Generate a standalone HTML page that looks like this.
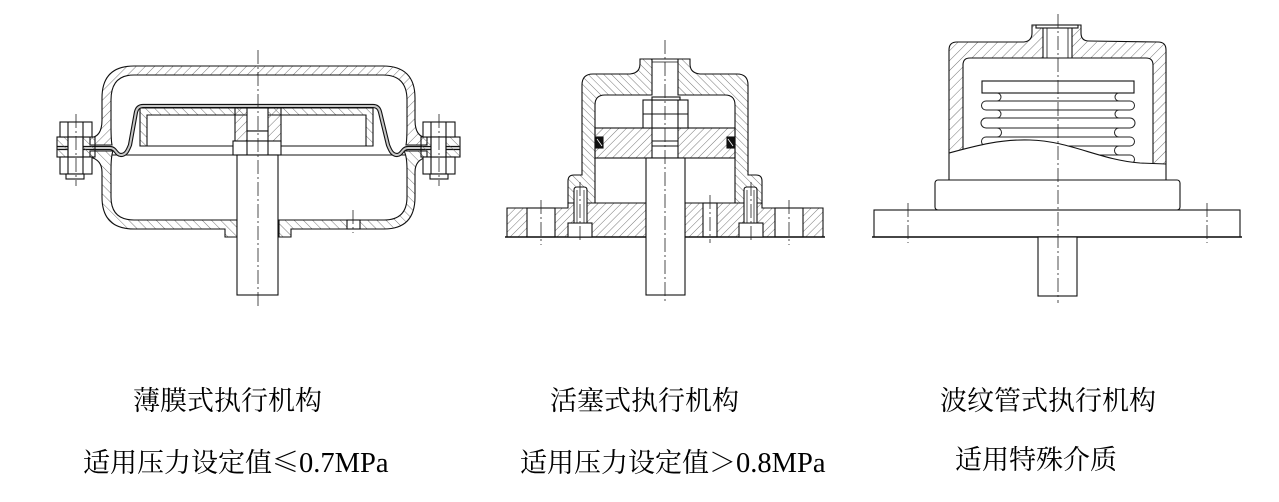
<!DOCTYPE html>
<html><head><meta charset="utf-8">
<style>
html,body{margin:0;padding:0;background:#fff;}
body{width:1279px;height:502px;position:relative;overflow:hidden;}
svg{position:absolute;left:0;top:0;}
.t{position:absolute;font-family:"Liberation Serif","Noto Serif CJK SC",serif;font-size:27px;color:#000;white-space:nowrap;line-height:27px;}
.c{font-family:"Noto Serif CJK SC","Noto Sans CJK SC",serif;}
.l{font-family:"Liberation Serif",serif;font-size:28.5px;}
</style></head><body>
<svg width="1279" height="502" viewBox="0 0 1279 502" xmlns="http://www.w3.org/2000/svg">
<defs>
<pattern id="hs" width="6.5" height="6.5" patternUnits="userSpaceOnUse" patternTransform="rotate(45)"><line x1="0" y1="0" x2="0" y2="6.5" stroke="#555" stroke-width="0.8"/></pattern>
<pattern id="hb" width="6.5" height="6.5" patternUnits="userSpaceOnUse" patternTransform="rotate(-45)"><line x1="0" y1="0" x2="0" y2="6.5" stroke="#555" stroke-width="0.8"/></pattern>
<pattern id="ps" width="5.5" height="5.5" patternUnits="userSpaceOnUse" patternTransform="rotate(45)"><line x1="0" y1="0" x2="0" y2="5.5" stroke="#555" stroke-width="0.8"/></pattern>
<pattern id="pb" width="5.5" height="5.5" patternUnits="userSpaceOnUse" patternTransform="rotate(-45)"><line x1="0" y1="0" x2="0" y2="5.5" stroke="#555" stroke-width="0.8"/></pattern>
<pattern id="bs" width="7" height="7" patternUnits="userSpaceOnUse" patternTransform="rotate(45)"><line x1="0" y1="0" x2="0" y2="7" stroke="#555" stroke-width="0.8"/></pattern>
<clipPath id="above"><path d="M930 0 L1190 0 L1190 164 L1166 164 L1140 163 C1100 160 1070 141 1030 140 C1000 139 975 146 949 153 L930 153 Z"/></clipPath>
</defs>

<g fill="none" stroke="#111" stroke-width="1.1">
<!-- ================= DIAPHRAGM ================= -->
<path fill="url(#hs)" d="M90 137 L94 137 Q102 134 102 120 L102 98 Q102 66 134 66 L383 66 Q415 66 415 98 L415 120 Q415 134 423 137 L427 137 L427 145 L406 145 Q407 140 407 125 L407 100 Q407 75 383 75 L134 75 Q111 75 111 100 L111 125 Q111 140 112 145 L90 145 Z"/>
<path fill="url(#hb)" d="M90 151 L113 151 Q111 156 111 170 L111 197 Q111 220 134 220 L237 220 L237 237 L225 237 L225 229 L134 229 Q102 229 102 197 L102 172 Q102 160 90 157 Z"/>
<path fill="url(#hb)" d="M427 151 L404 151 Q407 156 407 170 L407 197 Q407 220 384 220 L279 220 L279 237 L291 237 L291 229 L384 229 Q415 229 415 197 L415 172 Q415 160 427 157 Z"/>
<rect x="347" y="220" width="13" height="9" fill="#fff"/>
<path fill="url(#hb)" fill-rule="evenodd" d="M140 108 L373 108 L373 146 L140 146 Z M147 115 L366 115 L366 146 L147 146 Z"/>
<line x1="112" y1="155" x2="233" y2="155"/>
<line x1="281" y1="155" x2="405" y2="155"/>
<path stroke="#111" stroke-width="4.2" d="M57 148 L110 148 C116 148 116 155 121 155 C126 155 128 150 130 145 L136 112 C137 108 139 106 143 106 L373 106 C377 106 379 108 380 112 L388 145 C390 150 392 155 397 155 C402 155 402 148 408 148 L460 148"/>
<path stroke="#c8c8c8" stroke-width="2" d="M57 148 L110 148 C116 148 116 155 121 155 C126 155 128 150 130 145 L136 112 C137 108 139 106 143 106 L373 106 C377 106 379 108 380 112 L388 145 C390 150 392 155 397 155 C402 155 402 148 408 148 L460 148"/>
<rect x="235" y="108" width="46" height="34" fill="url(#hs)"/>
<rect x="247" y="108" width="21" height="23" fill="#fff"/>
<rect x="247" y="131" width="21" height="10" fill="#fff"/>
<rect x="233" y="141" width="48" height="14" fill="#fff"/>
<line x1="247" y1="141" x2="247" y2="155"/><line x1="268" y1="141" x2="268" y2="155"/>
<rect x="237" y="155" width="41" height="140" fill="#fff"/>
<rect x="57" y="137" width="38" height="20" fill="url(#hb)"/>
<rect x="60" y="122" width="32" height="15" fill="#fff"/>
<rect x="60" y="157" width="32" height="17" fill="#fff"/>
<rect x="66" y="174" width="18" height="5" fill="#fff"/>
<rect x="68" y="137" width="15" height="20" fill="#fff"/>
<line x1="68" y1="122" x2="68" y2="174"/><line x1="83" y1="122" x2="83" y2="174"/>
<rect x="421" y="137" width="39" height="20" fill="url(#hb)"/>
<rect x="423" y="122" width="32" height="15" fill="#fff"/>
<rect x="423" y="157" width="32" height="17" fill="#fff"/>
<rect x="430" y="174" width="18" height="5" fill="#fff"/>
<rect x="431" y="137" width="15" height="20" fill="#fff"/>
<line x1="431" y1="122" x2="431" y2="174"/><line x1="446" y1="122" x2="446" y2="174"/>

<!-- ================= PISTON ================= -->
<path fill="url(#ps)" d="M507 208 L568 208 L568 203 L762 203 L762 208 L823 208 L823 237 L507 237 Z"/>
<rect x="527" y="208" width="28" height="29" fill="#fff"/>
<rect x="775" y="208" width="28" height="29" fill="#fff"/>
<rect x="703" y="203" width="14" height="34" fill="#fff"/>
<rect x="646" y="203" width="39" height="34" fill="#fff" stroke="none"/>
<line x1="646" y1="203" x2="646" y2="237"/><line x1="685" y1="203" x2="685" y2="237"/>
<line x1="505" y1="237" x2="825" y2="237" stroke-width="1.4"/>
<path fill="url(#pb)" d="M568 203 L568 181 Q568 175 574 175 L582 175 L582 85 Q582 74 593 74 L630 74 Q640 73 640 64 L640 59 L652 59 L652 95 L605 95 Q595 95 595 105 L595 203 Z"/>
<path fill="url(#pb)" d="M762 203 L762 181 Q762 175 756 175 L748 175 L748 85 Q748 74 737 74 L700 74 Q690 73 690 64 L690 59 L678 59 L678 95 L725 95 Q735 95 735 105 L735 203 Z"/>
<line x1="652" y1="59" x2="678" y2="59"/>
<line x1="652" y1="62" x2="678" y2="62" stroke-width="0.8"/>
<rect x="568" y="223" width="24" height="14" fill="#fff"/>
<path fill="#fff" d="M574 223 L574 190 Q574 187 577 187 L584 187 Q587 187 587 190 L587 223 Z"/>
<line x1="577" y1="190" x2="577" y2="223" stroke-width="0.7"/><line x1="584" y1="190" x2="584" y2="223" stroke-width="0.7"/>
<rect x="739" y="223" width="24" height="14" fill="#fff"/>
<path fill="#fff" d="M744 223 L744 190 Q744 187 747 187 L754 187 Q757 187 757 190 L757 223 Z"/>
<line x1="747" y1="190" x2="747" y2="223" stroke-width="0.7"/><line x1="754" y1="190" x2="754" y2="223" stroke-width="0.7"/>
<rect x="595" y="128" width="140" height="30" fill="url(#ps)"/>
<rect x="652" y="128" width="26" height="30" fill="#fff"/>
<rect x="596" y="137" width="7" height="11" fill="#111"/>
<line x1="597" y1="139" x2="602" y2="146" stroke="#fff" stroke-width="0.8"/>
<rect x="727" y="137" width="7" height="11" fill="#111"/>
<line x1="728" y1="139" x2="733" y2="146" stroke="#fff" stroke-width="0.8"/>
<line x1="652" y1="141" x2="678" y2="141"/><line x1="652" y1="146" x2="678" y2="146"/>
<rect x="643" y="100" width="45" height="28" fill="#fff"/>
<line x1="643" y1="114" x2="688" y2="114"/>
<line x1="652" y1="100" x2="652" y2="128"/><line x1="678" y1="100" x2="678" y2="128"/>
<rect x="652" y="97" width="28" height="3" fill="#fff"/>
<rect x="646" y="158" width="39" height="137" fill="#fff"/>

<!-- ================= BELLOWS ================= -->
<path fill="url(#bs)" clip-path="url(#above)" stroke="none" d="M949 180 L949 50 Q949 42 957 42 L1024 42 Q1032 41 1032 33 L1032 25 L1043 25 L1043 58 L970 58 Q963 58 963 65 L963 180 Z"/>
<path fill="url(#bs)" clip-path="url(#above)" stroke="none" d="M1166 180 L1166 50 Q1166 42 1158 42 L1089 42 Q1081 41 1081 33 L1081 25 L1072 25 L1072 58 L1146 58 Q1153 58 1153 65 L1153 180 Z"/>
<path d="M949 180 L949 50 Q949 42 957 42 L1024 42 Q1032 41 1032 33 L1032 25 L1081 25 L1081 33 Q1081 41 1089 41 L1158 42 Q1166 42 1166 50 L1166 180"/>
<g clip-path="url(#above)">
<path d="M963 180 L963 65 Q963 58 970 58 L1146 58 Q1153 58 1153 65 L1153 180"/>
<line x1="1043" y1="25" x2="1043" y2="58"/><line x1="1072" y1="25" x2="1072" y2="58"/>
<line x1="1047" y1="28" x2="1047" y2="58" stroke-width="0.8"/><line x1="1068" y1="28" x2="1068" y2="58" stroke-width="0.8"/>
<rect x="1036" y="25" width="42" height="3" fill="#fff"/>
<rect x="982" y="81" width="152" height="12" fill="#fff"/>
<g stroke="#222" stroke-width="1">
<path d="M986 101 L1130 101 M986 110 L1130 110 M986 118 L1130 118 M986 128 L1130 128 M986 137 L1130 137 M986 146 L1130 146 M986 155 L1130 155 M986 164 L1130 164"/>
<path d="M997 93 A4 4 0 0 1 997 101 M997 110 A4 4 0 0 1 997 118 M997 128 A4.5 4.5 0 0 1 997 137 M997 146 A4.5 4.5 0 0 1 997 155"/>
<path d="M986 101 A4.5 4.5 0 0 0 986 110 M986 118 A5 5 0 0 0 986 128 M986 137 A4.5 4.5 0 0 0 986 146 M986 155 A4.5 4.5 0 0 0 986 164"/>
<path d="M1119 93 A4 4 0 0 0 1119 101 M1119 110 A4 4 0 0 0 1119 118 M1119 128 A4.5 4.5 0 0 0 1119 137 M1119 146 A4.5 4.5 0 0 0 1119 155"/>
<path d="M1130 101 A4.5 4.5 0 0 1 1130 110 M1130 118 A5 5 0 0 1 1130 128 M1130 137 A4.5 4.5 0 0 1 1130 146 M1130 155 A4.5 4.5 0 0 1 1130 164"/>
</g>
</g>
<path d="M949 153 C975 146 1000 139 1030 140 C1070 141 1100 160 1140 163 L1166 164"/>
<rect x="935" y="180" width="245" height="30" rx="3" fill="#fff"/>
<rect x="874" y="210" width="366" height="27" fill="#fff"/>
<line x1="872" y1="237" x2="1242" y2="237" stroke-width="1.4"/>
<rect x="1038" y="237" width="39" height="59" fill="#fff"/>

<!-- ================= CENTER LINES ================= -->
<g stroke="#222" stroke-width="0.8" stroke-dasharray="14 3 2 3">
<line x1="258" y1="50" x2="258" y2="308"/>
<line x1="76" y1="114" x2="76" y2="186"/>
<line x1="439" y1="114" x2="439" y2="186"/>
<line x1="353" y1="210" x2="353" y2="233"/>
<line x1="665" y1="40" x2="665" y2="302"/>
<line x1="541" y1="200" x2="541" y2="245"/>
<line x1="789" y1="200" x2="789" y2="245"/>
<line x1="580" y1="182" x2="580" y2="243"/>
<line x1="751" y1="182" x2="751" y2="243"/>
<line x1="710" y1="195" x2="710" y2="243"/>
<line x1="1058" y1="14" x2="1058" y2="303"/>
<line x1="908" y1="203" x2="908" y2="243"/>
<line x1="1207" y1="203" x2="1207" y2="243"/>
</g>
</g>
</svg>

<div class="t" style="left:133px;top:388px;">薄膜式执行机构</div>
<div class="t" style="left:83px;top:447px;">适用压力设定值<span class="c">≤</span><span class="l">0.7MPa</span></div>
<div class="t" style="left:550px;top:388px;">活塞式执行机构</div>
<div class="t" style="left:520px;top:447px;">适用压力设定值<span class="c">＞</span><span class="l">0.8MPa</span></div>
<div class="t" style="left:940px;top:388px;">波纹管式执行机构</div>
<div class="t" style="left:955px;top:447px;">适用特殊介质</div>
</body></html>
